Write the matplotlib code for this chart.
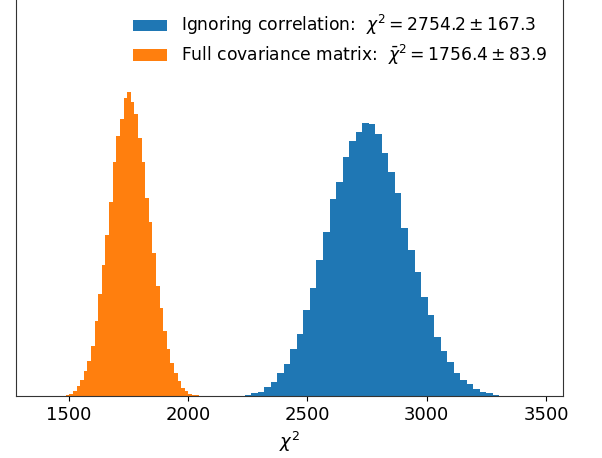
import numpy as np
import matplotlib
matplotlib.use("Agg")
import matplotlib.pyplot as plt

# histogram bin counts (arbitrary units, no y axis shown)
full_start = 1472.0
full_width = 15.1
full_counts = [0.8, 1.6, 2.6, 5.3, 10.3, 16.3, 25.3, 35.3, 50.3, 75.3, 102.3, 131.3,
               161.3, 194.3, 234.3, 260.3, 277.3, 298.3, 304.3, 294.3, 282.3, 258.3,
               234.3, 198.3, 174.3, 143.3, 110.3, 88.3, 65.3, 47.3, 33.3, 23.3, 15.3,
               8.3, 5.3, 2.3, 1.3, 0.8, 0.6]

ign_start = 2209.0
ign_width = 27.4
ign_counts = [0.6, 1.3, 3.6, 4.3, 9.3, 14.3, 23.3, 32.3, 47.3, 62.3, 86.3, 108.3, 136.3,
              164.3, 197.3, 214.3, 239.3, 255.3, 264.3, 273.3, 272.3, 262.3, 243.3,
              224.3, 203.3, 168.3, 146.3, 124.3, 99.3, 81.3, 59.3, 45.3, 34.3, 23.3,
              16.3, 12.3, 7.3, 4.3, 3.3, 1.3, 0.7, 0.6, 0.6]

ign_label = r"Ignoring correlation:  $\chi^2 = 2754.2 \pm 167.3$"
full_label = r"Full covariance matrix:  $\bar{\chi}^2 = 1756.4 \pm 83.9$"
xticks = [1500, 2000, 2500, 3000, 3500]


def edges(start, width, n):
    return start + width * np.arange(n + 1)


fig = plt.figure(figsize=(6.02, 4.58), dpi=100)
ax = fig.add_axes([16 / 602, 61.7 / 458, 546.7 / 602, 398.3 / 458])

e_ign = edges(ign_start, ign_width, len(ign_counts))
e_full = edges(full_start, full_width, len(full_counts))
ax.hist(e_ign[:-1], bins=e_ign, weights=ign_counts, color="C0", label=ign_label)
ax.hist(e_full[:-1], bins=e_full, weights=full_counts, color="C1", label=full_label)

ax.set_xlim(1278, 3570)
ax.set_ylim(0, 398.3)
ax.set_yticks([])
ax.set_xticks(xticks)
ax.tick_params(axis="x", labelsize=13)
ax.spines["top"].set_visible(False)
for s in ("left", "right", "bottom"):
    ax.spines[s].set_color("#333333")
ax.set_xlabel(r"$\chi^2$", fontsize=13)

ax.legend(loc="upper right", frameon=False, fontsize=12.3, labelspacing=0.32)

fig.savefig("out.png", dpi=100)
